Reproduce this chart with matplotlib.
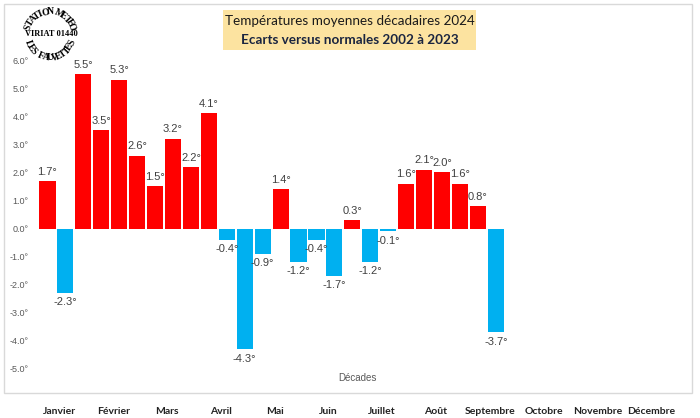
import numpy as np
import matplotlib
matplotlib.use("Agg")
import matplotlib.pyplot as plt
from matplotlib.patches import Rectangle
from matplotlib.transforms import ScaledTranslation

# ---- data ----
months = ["Janvier", "Février", "Mars", "Avril", "Mai", "Juin", "Juillet",
          "Août", "Septembre", "Octobre", "Novembre", "Décembre"]
ecarts = [1.7, -2.3, 5.5, 3.5, 5.3, 2.6, 1.5, 3.2, 2.2, 4.1, -0.4, -4.3,
          -0.9, 1.4, -1.2, -0.4, -1.7, 0.3, -1.2, -0.1, 1.6, 2.1, 2.0, 1.6,
          0.8, -3.7]
yticks = [6, 5, 4, 3, 2, 1, 0, -1, -2, -3, -4, -5]
n_decades = 36
title1 = "Températures moyennes décadaires 2024"
title2 = "Ecarts versus normales 2002 à 2023"

RED = "#FF0000"
BLUE = "#00B0F0"
GRAY = "#595959"

W, H = 700, 418
fig = plt.figure(figsize=(W / 100, H / 100), dpi=100)

# Main axes (positions in pixels converted to fractions)
left_px, right_px = 36.7, 685.9
top_px, bot_px = 60, 369
ax = fig.add_axes([left_px / W, (H - bot_px) / H, (right_px - left_px) / W, (bot_px - top_px) / H])
ax.set_xlim(-0.6, n_decades - 0.4)
ax.set_ylim(-5, 6)

x = np.arange(len(ecarts))
vals = np.array(ecarts)
colors = [RED if v >= 0 else BLUE for v in vals]
ax.bar(x, vals, width=0.9, color=colors, zorder=2)

for xi, v in zip(x, vals):
    if v >= 0:
        ax.annotate(f"{v:.1f}°", (xi, v), xytext=(0, 3), textcoords="offset points",
                    ha="center", va="bottom", fontsize=8, color="#404040",
                    family="Liberation Sans", annotation_clip=False)
    else:
        ax.annotate(f"{v:.1f}°", (xi, v), xytext=(0, -3), textcoords="offset points",
                    ha="center", va="top", fontsize=8, color="#404040",
                    family="Liberation Sans", annotation_clip=False)

for s in ax.spines.values():
    s.set_visible(False)
ax.set_yticks(yticks)
ax.set_yticklabels([f"{t:.1f}°" for t in yticks], fontsize=6.5, color=GRAY,
                   family="Liberation Sans")
ax.tick_params(axis="y", length=0, pad=6)

month_centers = [3 * i + 1 for i in range(len(months))]
ax.set_xticks(month_centers)
ax.set_xticklabels(months, fontsize=7.5, fontweight="bold", color="#222222", family="Lato")
ax.tick_params(axis="x", length=0, pad=27)
shift = ScaledTranslation(-6 / 100, 0, fig.dpi_scale_trans)
for lbl in ax.get_xticklabels():
    lbl.set_transform(lbl.get_transform() + shift)
ax.patch.set_alpha(0)

# overlay in pixel coordinates
ov = fig.add_axes([0, 0, 1, 1], zorder=-1)
ov.set_xlim(0, W)
ov.set_ylim(H, 0)
ov.axis("off")
ov.add_patch(Rectangle((4, 4), 688, 389, fill=False, edgecolor="#D9D9D9", lw=1))

ov2 = fig.add_axes([0, 0, 1, 1], zorder=5)
ov2.set_xlim(0, W)
ov2.set_ylim(H, 0)
ov2.axis("off")
ov2.add_patch(Rectangle((223, 10), 253, 40, facecolor="#FCE3A0", edgecolor="none"))
ov2.text(349.5, 21, title1, ha="center", va="center", fontsize=9.7, family="Lato", color="#1a1a1a")
ov2.text(349.5, 40, title2, ha="center", va="center", fontsize=9.7, family="Lato",
         fontweight="bold", color="#1a2540")
ov2.text(357, 378, "Décades", ha="center", va="center", fontsize=7, color=GRAY, family="Liberation Sans")

# Logo stamp
cx, cy, r = 50, 35, 23
def arc_text(txt, a0, a1, radius, top=True):
    n = len(txt)
    angs = np.linspace(a0, a1, n)
    for ch, a in zip(txt, angs):
        ar = np.deg2rad(a)
        px = cx + radius * np.cos(ar)
        py = cy - radius * np.sin(ar)
        rot = a - 90 if top else a + 90
        ov2.text(px, py, ch, ha="center", va="center", rotation=rot, fontsize=7,
                 family="Liberation Serif", fontweight="bold", color="black")

arc_text("STATION METEO", 160, 20, r, top=True)
arc_text("LES FAUVETTES", 200, 340, r, top=False)
ov2.text(cx + 1, cy - 1, "VIRIAT 01440", ha="center", va="center", fontsize=6,
         family="Liberation Serif", fontweight="bold", color="black")

fig.savefig("out.png", dpi=100)
